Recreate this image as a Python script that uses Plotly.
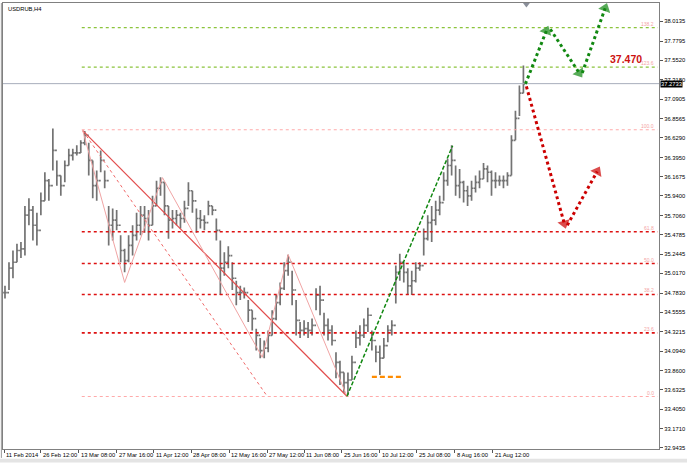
import plotly.graph_objects as go

# ---------------- data ----------------
symbol_title = "USDRUB,H4"
bar_index = list(range(4, 525, 4))  # H4 bar numbers (4-bar samples)

highs = [34.87, 35.15, 35.29, 35.37, 35.39, 35.82, 35.91, 35.82, 35.74, 35.98,
         36.22, 36.14, 36.74, 36.36, 36.18, 36.36, 36.50, 36.50, 36.54, 36.60,
         36.71, 36.57, 36.36, 36.24, 36.48, 36.24, 35.82, 35.79, 35.77, 35.47,
         35.31, 35.47, 35.59, 35.74, 35.82, 35.82, 35.77, 35.94, 36.12, 36.16,
         36.10, 35.82, 35.77, 35.77, 35.74, 35.88, 36.10, 36.00, 35.79, 35.77,
         35.71, 35.88, 35.82, 35.67, 35.41, 35.27, 35.34, 35.15, 34.93, 34.87,
         34.85, 34.70, 34.58, 34.36, 34.25, 34.22, 34.34, 34.58, 34.76, 34.91,
         35.15, 35.24, 35.05, 34.70, 34.44, 34.46, 34.44, 34.48, 34.84, 34.87,
         34.55, 34.48, 34.40, 34.08, 33.98, 33.84, 33.84, 34.04, 34.34, 34.40,
         34.48, 34.61, 34.34, 34.16, 34.16, 34.25, 34.40, 34.46, 35.11, 35.25,
         35.15, 35.08, 35.05, 35.15, 35.15, 35.55, 35.71, 35.82, 35.88, 35.94,
         36.22, 36.38, 36.54, 36.30, 36.26, 36.12, 36.06, 36.12, 36.18, 36.24,
         36.33, 36.30, 36.24, 36.22, 36.18, 36.18, 36.22, 36.66, 36.95, 37.25,
         37.49]

lows = [34.72, 34.82, 34.96, 35.15, 35.20, 35.23, 35.59, 35.41, 35.35, 35.71,
        35.88, 35.88, 36.24, 36.06, 35.94, 36.10, 36.30, 36.36, 36.42, 36.45,
        36.54, 36.18, 35.91, 35.88, 36.22, 36.03, 35.35, 35.41, 35.53, 35.15,
        35.03, 35.15, 35.23, 35.41, 35.47, 35.50, 35.41, 35.59, 35.82, 35.94,
        35.71, 35.43, 35.55, 35.59, 35.55, 35.62, 35.82, 35.74, 35.50, 35.55,
        35.53, 35.71, 35.71, 35.41, 34.76, 34.99, 35.08, 34.82, 34.64, 34.70,
        34.72, 34.44, 34.34, 34.10, 34.01, 34.01, 34.08, 34.28, 34.46, 34.64,
        34.82, 34.99, 34.64, 34.28, 34.25, 34.28, 34.25, 34.28, 34.58, 34.52,
        34.28, 34.22, 34.16, 33.77, 33.69, 33.60, 33.57, 33.75, 34.13, 34.16,
        34.25, 34.32, 34.10, 33.96, 33.81, 34.01, 34.20, 34.28, 34.66, 34.93,
        34.91, 34.76, 34.76, 34.91, 35.05, 35.23, 35.41, 35.39, 35.59, 35.71,
        35.88, 36.06, 36.18, 35.94, 35.91, 35.86, 35.82, 35.88, 35.98, 36.03,
        36.14, 36.10, 35.94, 36.03, 36.06, 36.03, 36.06, 36.18, 36.60, 36.89,
        37.16]

closes = [34.79, 35.08, 35.15, 35.29, 35.31, 35.71, 35.77, 35.59, 35.53, 35.88,
          36.12, 36.06, 36.48, 36.18, 36.06, 36.30, 36.42, 36.45, 36.45, 36.57,
          36.66, 36.36, 36.06, 36.12, 36.36, 36.12, 35.59, 35.65, 35.59, 35.29,
          35.17, 35.35, 35.47, 35.59, 35.71, 35.67, 35.59, 35.82, 36.03, 36.10,
          35.82, 35.65, 35.67, 35.71, 35.67, 35.79, 36.00, 35.88, 35.67, 35.65,
          35.62, 35.82, 35.77, 35.53, 35.08, 35.15, 35.23, 34.96, 34.79, 34.79,
          34.79, 34.58, 34.48, 34.28, 34.10, 34.13, 34.28, 34.48, 34.67, 34.84,
          35.05, 35.15, 34.82, 34.46, 34.34, 34.36, 34.34, 34.40, 34.76, 34.70,
          34.40, 34.34, 34.22, 33.96, 33.84, 33.72, 33.75, 33.96, 34.25, 34.28,
          34.40, 34.52, 34.22, 34.08, 34.01, 34.16, 34.34, 34.40, 35.03, 35.15,
          35.03, 34.87, 34.93, 35.08, 35.11, 35.43, 35.62, 35.65, 35.77, 35.86,
          36.12, 36.30, 36.36, 36.06, 36.10, 36.00, 35.94, 36.03, 36.10, 36.14,
          36.26, 36.22, 36.12, 36.12, 36.12, 36.12, 36.18, 36.60, 36.86, 37.16,
          37.27]
opens = [closes[0]] + closes[:-1]

last_price = 37.2733

# date labels on the time axis (bar number where each label sits)
date_bars = [3, 40, 78, 116, 153, 191, 229, 267, 304, 342, 380, 417, 455, 493]
date_labels = ["11 Feb 2014", "26 Feb 12:00", "13 Mar 08:00", "27 Mar 16:00",
               "11 Apr 12:00", "28 Apr 08:00", "12 May 16:00", "27 May 12:00",
               "11 Jun 08:00", "25 Jun 16:00", "10 Jul 12:00", "25 Jul 08:00",
               "8 Aug 16:00", "21 Aug 12:00"]

# price scale labels
price_ticks = [38.0135, 37.7795, 37.5520, 37.3180, 37.0905, 36.8565, 36.6290,
               36.3950, 36.1675, 35.9400, 35.7060, 35.4785, 35.2445, 35.0170,
               34.7830, 34.5555, 34.3215, 34.0940, 33.8600, 33.6325, 33.4050,
               33.1710, 32.9435]
price_tick_text = ["%.4f" % v for v in price_ticks]

# Fibonacci levels
fib_names = ["138.2", "123.6", "100.0", "61.8", "50.0", "38.2", "23.6", "0.0"]
fib_prices = [37.940, 37.470, 36.726, 35.512, 35.135, 34.767, 34.311, 33.554]
fib_colors = ["#8cc43c", "#8cc43c", "#ffaaaa", "#dd1111", "#dd1111", "#dd1111", "#dd1111", "#ffaaaa"]
fib_widths = [1.2, 1.2, 1.1, 1.6, 1.6, 1.6, 1.6, 1.1]
fib_start_bar = 81
fib_end_bar = 659

# wave (zig-zag) pattern points
wave_bars = [82, 124, 162, 262, 288, 347]
wave_prices = [36.714, 34.910, 36.156, 34.020, 35.242, 33.557]
# channel lines from the March high
trend_bar = [82, 347]
trend_price = [36.714, 33.557]
dash_bar = [82, 267]
dash_price = [36.714, 33.557]
# rally line
rally_bar = [347, 453]
rally_price = [33.557, 36.536]
# orange support mark
orange_bar = [372, 402]
orange_price = [33.788, 33.788]

# forecast arrows
green_paths = [([526, 547], [37.27, 37.90]),
               ([551, 580], [37.92, 37.40]),
               ([583, 606], [37.40, 38.17])]
red_paths = [([527, 565], [37.24, 35.61]),
             ([568, 598], [35.59, 36.23])]
target_text = "37.470"

FONT = "Liberation Sans"

fig = go.Figure()

# fib levels
for nm, pr, col, w in zip(fib_names, fib_prices, fib_colors, fib_widths):
    fig.add_trace(go.Scatter(x=[fib_start_bar, fib_end_bar], y=[pr, pr], mode="lines",
                             line=dict(color=col, width=w, dash="dot"),
                             hoverinfo="skip", showlegend=False))

# current price line
fig.add_trace(go.Scatter(x=[2, 660], y=[last_price, last_price], mode="lines",
                         line=dict(color="#a7adbb", width=1), hoverinfo="skip", showlegend=False))

# price bars
fig.add_trace(go.Ohlc(x=bar_index, open=opens, high=highs, low=lows, close=closes,
                      increasing=dict(line=dict(color="#737373", width=1.7)),
                      decreasing=dict(line=dict(color="#737373", width=1.7)),
                      tickwidth=0.45, showlegend=False, hoverinfo="skip"))

# channel / pattern lines
fig.add_trace(go.Scatter(x=trend_bar, y=trend_price, mode="lines",
                         line=dict(color="#e24c4c", width=1.2), showlegend=False, hoverinfo="skip"))
fig.add_trace(go.Scatter(x=dash_bar, y=dash_price, mode="lines",
                         line=dict(color="#f06a6a", width=1, dash="dot"), showlegend=False, hoverinfo="skip"))
fig.add_trace(go.Scatter(x=wave_bars, y=wave_prices, mode="lines",
                         line=dict(color="#f0a4a4", width=1), showlegend=False, hoverinfo="skip"))

# rally line + orange mark
fig.add_trace(go.Scatter(x=rally_bar, y=rally_price, mode="lines",
                         line=dict(color="#118811", width=1.5, dash="4px,2px"), showlegend=False, hoverinfo="skip"))
fig.add_trace(go.Scatter(x=orange_bar, y=orange_price, mode="lines",
                         line=dict(color="#ff8c00", width=2.2, dash="5px,3px"), showlegend=False, hoverinfo="skip"))

# forecast arrows
for xs, ys in green_paths:
    fig.add_trace(go.Scatter(x=xs, y=ys, mode="lines+markers",
                             line=dict(color="#118811", width=3, dash="dot"),
                             marker=dict(symbol="triangle-up", size=[0, 11], color="#118811",
                                         angleref="previous", line=dict(width=0)),
                             showlegend=False, hoverinfo="skip"))
for xs, ys in red_paths:
    fig.add_trace(go.Scatter(x=xs, y=ys, mode="lines+markers",
                             line=dict(color="#cc0000", width=3, dash="dot"),
                             marker=dict(symbol="triangle-up", size=[0, 11], color="#cc0000",
                                         angleref="previous", line=dict(width=0)),
                             showlegend=False, hoverinfo="skip"))

# shift marker at the top
fig.add_trace(go.Scatter(x=[527], y=[38.215], mode="markers",
                         marker=dict(symbol="triangle-down", size=6, color="#8a8f9a"),
                         showlegend=False, hoverinfo="skip"))

annotations = []
for nm, pr in zip(fib_names, fib_prices):
    annotations.append(dict(x=657, y=pr, xref="x", yref="y", text=nm, showarrow=False,
                            xanchor="right", yanchor="bottom", yshift=-1,
                            font=dict(family=FONT, size=5, color="#f4a4a4")))
annotations.append(dict(x=645, y=37.47, xref="x", yref="y", text="<b>" + target_text + "</b>",
                        showarrow=False, xanchor="right", yanchor="bottom", yshift=0,
                        font=dict(family=FONT, size=10.5, color="#cc1111")))
annotations.append(dict(x=0.004, y=0.997, xref="paper", yref="paper", text=symbol_title,
                        showarrow=False, xanchor="left", yanchor="top",
                        font=dict(family=FONT, size=5.8, color="#000000")))
for b, lab in zip(date_bars, date_labels):
    annotations.append(dict(x=b, y=0, xref="x", yref="paper", text=lab, showarrow=False,
                            xanchor="left", yanchor="top", xshift=0, yshift=-1,
                            font=dict(family=FONT, size=5.8, color="#000000")))
annotations.append(dict(x=1.0, y=last_price, xref="paper", yref="y", text=str(last_price),
                        showarrow=False, xanchor="left", yanchor="middle", xshift=1,
                        bgcolor="#000000", borderpad=0,
                        font=dict(family=FONT, size=5.8, color="#ffffff")))

shapes = [
    dict(type="rect", xref="paper", yref="paper", x0=-0.01, x1=1.05, y0=-0.0305, y1=-0.022,
         fillcolor="#e4e4e4", line=dict(width=0), layer="below"),
    dict(type="line", xref="paper", yref="paper", x0=-0.0025, x1=-0.0025, y0=-0.02, y1=1.0,
         line=dict(color="#9a9a9a", width=1)),
]

fig.update_layout(
    width=687, height=463,
    margin=dict(l=2, r=27, t=2, b=14),
    paper_bgcolor="#ffffff", plot_bgcolor="#ffffff",
    showlegend=False,
    annotations=annotations,
    shapes=shapes,
    xaxis=dict(range=[2, 660], showgrid=False, zeroline=False, rangeslider=dict(visible=False),
               tickvals=date_bars, ticktext=[""] * len(date_bars), ticks="outside", ticklen=3,
               tickcolor="#555555", showline=True, linecolor="#808080", mirror=True, fixedrange=True),
    yaxis=dict(range=[32.930, 38.232], side="right", showgrid=False, zeroline=False,
               tickvals=price_ticks, ticktext=price_tick_text, ticks="outside", ticklen=3,
               tickcolor="#555555", showline=True, linecolor="#808080", mirror=True,
               tickfont=dict(family=FONT, size=5.8, color="#000000"), fixedrange=True),
)

fig.write_html("out.html", config={"displayModeBar": False},
               post_script="document.body.style.margin='0px';document.body.style.overflow='hidden';")
